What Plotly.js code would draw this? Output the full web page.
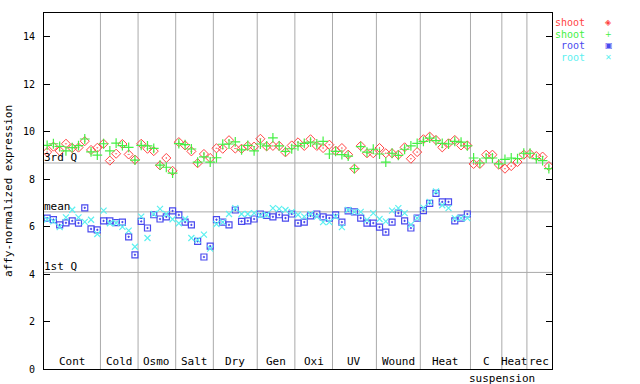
<!DOCTYPE html>
<html>
<head>
<meta charset="utf-8">
<script src="https://cdn.plot.ly/plotly-3.0.1.min.js"></script>
<style>html,body{margin:0;padding:0;background:#fff}#chart{width:640px;height:384px}</style>
</head>
<body>
<div id="chart"></div>
<script>
// ---- data ----
const groupNames = ["Cont","Cold","Osmo","Salt","Dry","Gen","Oxi","UV","Wound","Heat","C","Heat","rec"];
const groupSubLabels = ["","","","","","","","","","","suspension","",""];
const groupSizes = [9,6,6,6,7,6,6,7,7,8,5,4,4];

const shootRed = [
  9.14,9.37,9.19,9.49,9.31,9.33,9.60,9.23,9.32,
  9.49,8.78,9.07,9.48,9.04,8.82,
  9.49,9.28,9.18,8.58,8.89,8.35,
  9.56,9.42,9.17,8.67,9.06,8.89,
  9.30,9.28,9.64,9.29,9.28,9.40,9.37,
  9.70,9.38,9.40,9.40,9.13,9.42,
  9.55,9.40,9.68,9.40,9.31,9.45,
  9.20,9.31,9.03,8.44,9.40,9.09,9.09,
  9.31,9.09,9.09,9.03,9.34,8.86,9.14,
  9.68,9.79,9.65,9.34,9.51,9.65,9.42,9.42,
  8.64,8.64,9.03,9.03,8.61,
  8.44,8.55,8.72,9.03,
  9.06,8.97,8.95,8.55
];
const shootGreen = [
  9.42,9.49,9.38,9.19,9.33,9.41,9.69,9.15,9.01,
  9.49,9.19,9.52,9.41,9.34,8.80,
  9.42,9.40,9.30,8.59,8.50,8.25,
  9.50,9.45,9.27,8.72,8.94,8.72,
  8.90,9.47,9.48,9.57,9.23,9.42,9.19,
  9.48,9.40,9.74,9.40,9.17,9.28,
  9.40,9.51,9.56,9.48,9.59,9.06,
  9.17,9.03,8.97,8.44,9.37,9.14,9.26,
  9.06,8.72,9.09,9.00,9.26,9.40,9.51,
  9.59,9.73,9.62,9.51,9.48,9.59,9.56,9.40,
  8.89,8.68,8.89,8.89,8.64,
  8.83,8.89,8.86,9.09,
  9.09,8.86,8.78,8.44
];
const rootBlue = [
  6.36,6.29,6.07,6.16,6.24,6.15,6.79,5.90,5.86,
  6.24,6.24,6.17,6.19,5.57,4.81,
  6.22,5.94,6.50,6.32,6.41,6.66,
  6.49,6.19,6.07,5.38,4.72,5.18,
  6.29,6.19,6.07,6.70,6.22,6.24,6.32,
  6.53,6.47,6.41,6.50,6.36,6.53,
  6.15,6.19,6.45,6.53,6.41,6.36,
  6.49,6.19,6.66,6.62,6.36,6.15,6.15,
  5.98,5.77,6.19,6.57,6.24,5.94,6.36,
  6.67,6.98,7.40,7.04,7.04,6.24,6.36,6.53
];
const rootCyan = [
  6.30,6.22,5.98,6.39,6.71,6.39,6.20,6.29,5.69,
  6.67,6.14,6.15,5.99,5.83,5.15,
  6.42,5.52,6.53,6.75,6.53,6.31,
  6.14,6.32,5.52,5.44,5.66,5.07,
  6.11,6.19,6.53,6.78,6.53,6.53,6.57,
  6.47,6.50,6.78,6.75,6.70,6.62,
  6.50,6.42,6.53,6.42,6.19,6.19,
  6.42,5.98,6.70,6.62,6.62,6.28,6.57,
  6.32,6.22,6.67,6.78,6.57,6.08,6.36,
  6.80,7.04,7.48,6.90,6.78,6.36,6.36,6.36
];
const refLabels = ["3rd Q","mean","1st Q"];
const refValues = [8.68,6.62,4.07];
const seriesNames = ["shoot","shoot","root","root"];
const seriesColors = ["#ff4444","#44f044","#4a4aee","#5cf0f0"];
const legendGlyphs = ["\u25C8","+","\u25A3","\u2715"];
const yTicks = [0,2,4,6,8,10,12,14];

// ---- build ----
const MONO = "DejaVu Sans Mono, Liberation Mono, monospace";
const nTotal = groupSizes.reduce((a,b)=>a+b,0);
const idx = n => Array.from({length:n},(_,i)=>i);

const traces = [
  {x: idx(shootRed.length), y: shootRed, name: seriesNames[0], type:"scatter", mode:"markers",
   marker:{symbol:"diamond-open-dot", size:7, color:seriesColors[0], line:{width:1, color:seriesColors[0]}}},
  {x: idx(shootGreen.length), y: shootGreen, name: seriesNames[1], type:"scatter", mode:"markers",
   marker:{symbol:"cross-thin-open", size:7, color:seriesColors[1], line:{width:1.2, color:seriesColors[1]}}},
  {x: idx(rootBlue.length), y: rootBlue, name: seriesNames[2], type:"scatter", mode:"markers",
   marker:{symbol:"square-open-dot", size:6, color:seriesColors[2], line:{width:1.2, color:seriesColors[2]}}},
  {x: idx(rootCyan.length), y: rootCyan, name: seriesNames[3], type:"scatter", mode:"markers",
   marker:{symbol:"x-thin-open", size:6, color:seriesColors[3], line:{width:1.2, color:seriesColors[3]}}}
];

const shapes = [];
const annotations = [];
let start = 0;
groupSizes.forEach((sz, g) => {
  const center = start + (sz - 1) / 2;
  annotations.push({x:center, xref:"x", y:0, yref:"paper", yanchor:"bottom", text:groupNames[g],
    showarrow:false, font:{family:MONO, size:11, color:"#000"}, yshift:-1});
  if (groupSubLabels[g]) {
    annotations.push({x:center, xref:"x", y:0, yref:"paper", yanchor:"top", text:groupSubLabels[g],
      showarrow:false, font:{family:MONO, size:11, color:"#000"}, xshift:16, yshift:-1});
  }
  start += sz;
  if (g < groupSizes.length - 1) {
    shapes.push({type:"line", xref:"x", yref:"paper", x0:start-0.5, x1:start-0.5, y0:0, y1:1,
      line:{color:"#aaaaaa", width:1}, layer:"below"});
  }
});
refValues.forEach((v, k) => {
  shapes.push({type:"line", xref:"paper", yref:"y", x0:0, x1:1, y0:v, y1:v,
    line:{color:"#aaaaaa", width:1}, layer:"below"});
  annotations.push({x:0, xref:"paper", y:v, yref:"y", xanchor:"left", yanchor:"bottom", text:refLabels[k],
    showarrow:false, font:{family:MONO, size:11, color:"#000"}, xshift:-2, yshift:-3});
});
// legend (text then symbol, as in the reference)
seriesNames.forEach((nm, k) => {
  const yp = 1 - (9.5 + 11.7 * k) / 356;
  annotations.push({x:1.066, xref:"paper", y:yp, yref:"paper", xanchor:"right", yanchor:"middle", text:nm,
    showarrow:false, borderpad:0, font:{family:MONO, size:10, color:seriesColors[k]}});
  annotations.push({x:1.112, xref:"paper", y:yp, yref:"paper", xanchor:"center", yanchor:"middle", text:legendGlyphs[k],
    showarrow:false, borderpad:0, font:{family:"DejaVu Sans", size:8, color:seriesColors[k]}});
});

const layout = {
  width:640, height:384,
  margin:{l:44, r:88, t:13, b:15, pad:0},
  paper_bgcolor:"#fff", plot_bgcolor:"#fff",
  showlegend:false,
  xaxis:{range:[-0.5, nTotal-0.5], showgrid:false, zeroline:false, showticklabels:false, ticks:"",
    showline:true, linecolor:"#000", linewidth:1, mirror:true, fixedrange:true},
  yaxis:{range:[0,15], tickvals:yTicks, ticktext:yTicks.map(String), ticks:"inside", ticklen:6, tickcolor:"#000",
    showline:true, linecolor:"#000", linewidth:1, mirror:"ticks", showgrid:false, zeroline:false,
    tickfont:{family:MONO, size:10, color:"#000"}, ticklabelstandoff:6, automargin:false,
    title:{text:"affy-normalized expression", font:{family:MONO, size:11, color:"#000"}, standoff:8}},
  shapes:shapes, annotations:annotations
};
Plotly.newPlot("chart", traces, layout, {staticPlot:true, displayModeBar:false});
</script>
</body>
</html>
